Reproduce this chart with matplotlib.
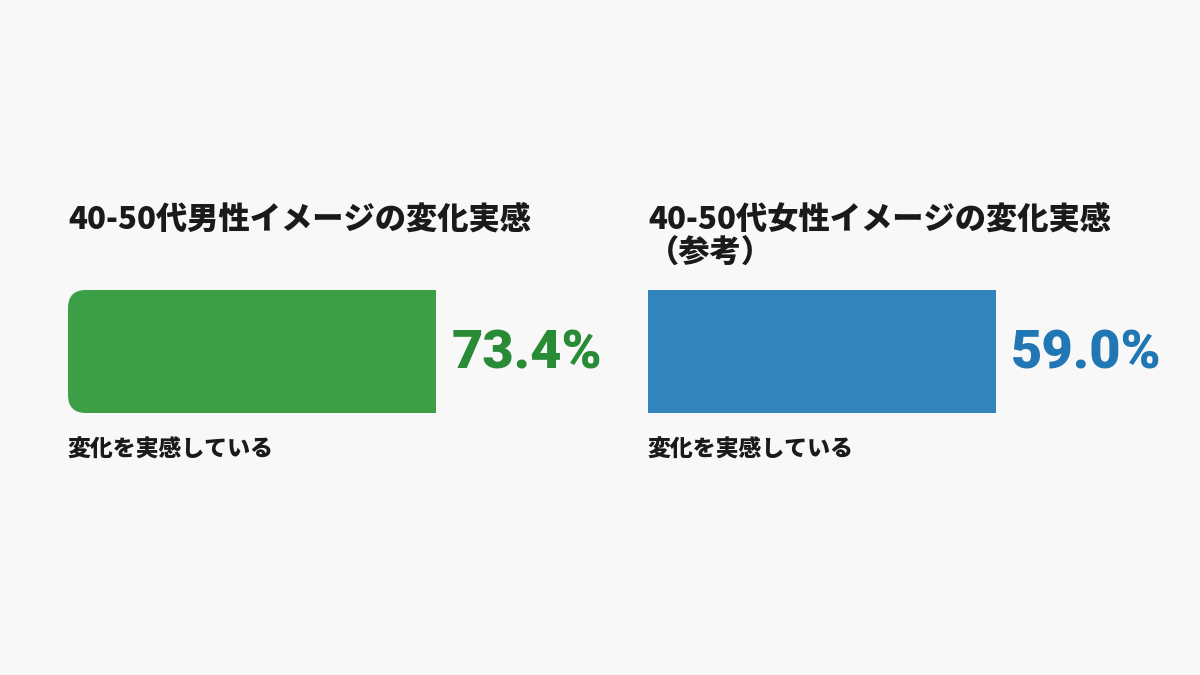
import matplotlib
matplotlib.use('Agg')
import matplotlib.pyplot as plt
from matplotlib.patches import FancyBboxPatch

plt.rcParams['font.family'] = ['Noto Sans CJK JP', 'DejaVu Sans']

# data
titles = ['40-50代男性イメージの変化実感', '40-50代女性イメージの変化実感\n（参考）']
values = [73.4, 59.0]
captions = ['変化を実感している', '変化を実感している']
bar_colors = ['#3d9f45', '#3184bc']
text_colors = ['#2a8b37', '#2077b3']
rounded = [True, False]

W, H = 1200, 675
fig = plt.figure(figsize=(12, 6.75), dpi=100)
fig.patch.set_facecolor('#f8f8f8')

# panel geometry in pixels (left edge, px per unit)
lefts = [68, 648]
px_per_unit = [368 / 73.4, 348 / 59.0]
bar_top, bar_bot = 290, 413

for i in range(2):
    axw = 100 * px_per_unit[i]
    ax = fig.add_axes([lefts[i] / W, 1 - bar_bot / H, axw / W, (bar_bot - bar_top) / H])
    ax.set_xlim(0, 100)
    ax.set_ylim(0, 1)
    ax.axis('off')
    ax.patch.set_alpha(0)

    bar = ax.barh([0.5], [values[i]], height=1.0, color=bar_colors[i])[0]
    if rounded[i]:
        r_px = 18
        rx = r_px / px_per_unit[i]
        ry = r_px / (bar_bot - bar_top)
        clip = FancyBboxPatch((0, 0), values[i] + 2 * rx, 1,
                              boxstyle='round,pad=0,rounding_size=%f' % rx,
                              mutation_aspect=ry / rx, transform=ax.transData)
        bar.set_clip_path(clip)

    ax.annotate('%.1f%%' % values[i], xy=(values[i], 0.5), xytext=(11, -2),
                textcoords='offset points', ha='left', va='center',
                fontsize=39, fontweight='black', color=text_colors[i],
                family=['Roboto', 'DejaVu Sans'], annotation_clip=False)

    fig.text(lefts[i] / W, 1 - 204 / H, titles[i], ha='left', va='top',
             fontsize=22.5, fontweight='black', color='#1a1a1a', linespacing=1.1)
    fig.text(lefts[i] / W, 1 - 450 / H, captions[i], ha='left', va='center',
             fontsize=16.5, fontweight='black', color='#1a1a1a')

fig.savefig('out.png', dpi=100, facecolor=fig.get_facecolor())
